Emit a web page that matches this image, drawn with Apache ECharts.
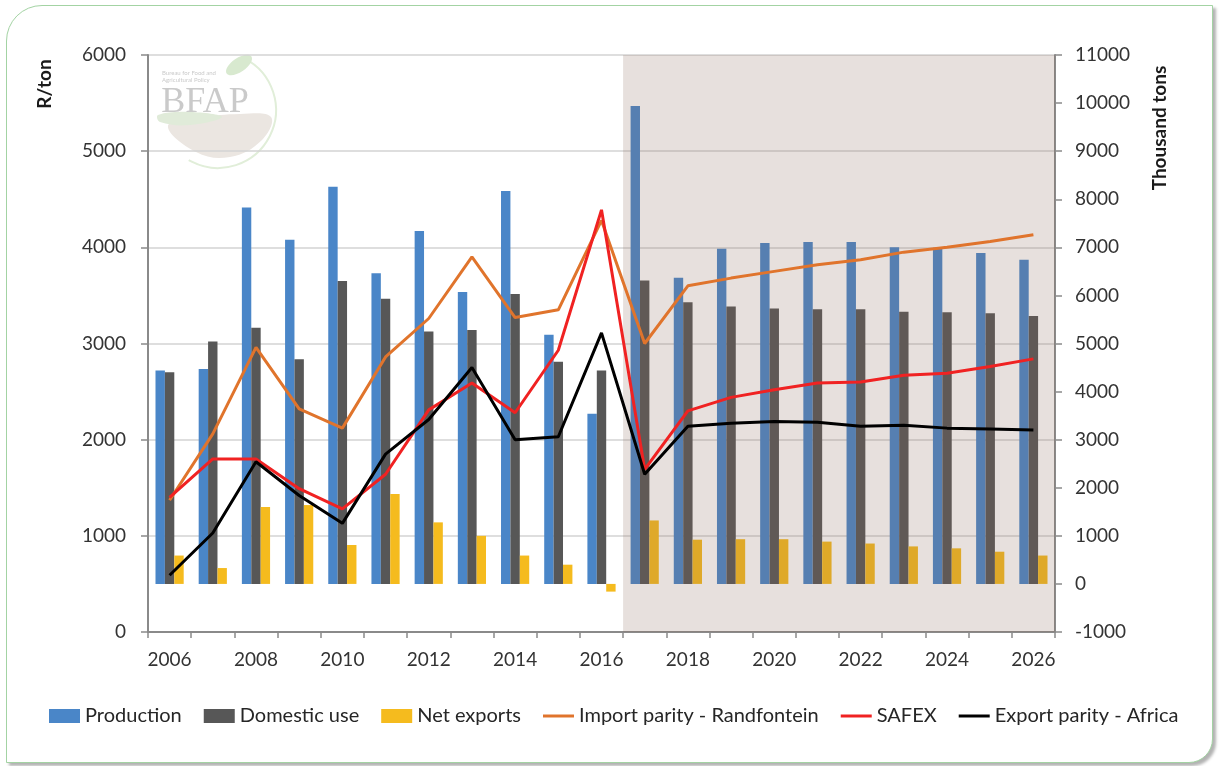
<!DOCTYPE html>
<html>
<head>
<meta charset="utf-8">
<script src="https://cdn.jsdelivr.net/npm/echarts@6/dist/echarts.min.js"></script>
<style>
html,body{margin:0;padding:0;background:#fff;overflow:hidden;}
#frame{position:absolute;left:6px;top:5px;width:1207px;height:758px;border:1.5px solid #a3d3a3;border-radius:36px 0 24px 0;box-shadow:3px 3px 3px rgba(0,0,0,0.3);box-sizing:border-box;background:#fff;}
#chart{position:absolute;left:0;top:0;width:1219px;height:766px;}
</style>
</head>
<body>
<div id="frame"></div>
<div id="chart"></div>
<script>
// ---- Data ----
const categories = ['2006','2007','2008','2009','2010','2011','2012','2013','2014','2015','2016',
  '2017','2018','2019','2020','2021','2022','2023','2024','2025','2026'];
// Thousand tons (right axis)
const production   = [4440, 4470, 7830, 7160, 8260, 6460, 7340, 6070, 8170, 5180, 3540,
  9940, 6370, 6970, 7090, 7110, 7110, 7000, 6990, 6880, 6740];
const domesticUse  = [4400, 5040, 5330, 4670, 6300, 5930, 5250, 5280, 6030, 4620, 4440,
  6310, 5860, 5770, 5730, 5710, 5710, 5660, 5650, 5630, 5570];
const netExports   = [590, 330, 1600, 1640, 810, 1870, 1280, 1000, 590, 400, -160,
  1320, 920, 930, 930, 880, 840, 780, 740, 670, 590];
// R/ton (left axis)
const importParity = [1370, 2060, 2960, 2320, 2120, 2860, 3260, 3900, 3270, 3350, 4280,
  3000, 3600, 3680, 3750, 3820, 3870, 3950, 4000, 4060, 4130];
const safex        = [1400, 1800, 1800, 1490, 1280, 1640, 2310, 2590, 2280, 2930, 4390,
  1690, 2300, 2440, 2520, 2590, 2600, 2670, 2690, 2760, 2840];
const exportParity = [590, 1030, 1770, 1420, 1130, 1850, 2210, 2750, 2000, 2030, 3110,
  1640, 2140, 2170, 2190, 2180, 2140, 2150, 2120, 2110, 2100];
const leftTicks  = {min: 0, max: 6000, interval: 1000};
const rightTicks = {min: -1000, max: 11000, interval: 1000};
const firstForecastYear = '2017';

// ---- Chart ----
const FONT = 'Lato';
const chart = echarts.init(document.getElementById('chart'));
const forecastStart = categories.indexOf(firstForecastYear);
const axisColor = '#8a8a8a';
const LINE_ICON = 'path://M0,0H31V3H0Z';

const lineSeries = (name, data, color) => ({
  name, type: 'line', yAxisIndex: 0, xAxisIndex: 0, data, symbol: 'none', z: 5,
  lineStyle: {color, width: 3}, itemStyle: {color}
});
const barSeries = (name, data, color) => ({
  name, type: 'bar', yAxisIndex: 1, xAxisIndex: 0, data, barWidth: 9.4, barGap: '0%',
  itemStyle: {color}
});
const plain = v => String(v);

const option = {
  backgroundColor: 'transparent',
  animation: false,
  textStyle: {fontFamily: FONT},
  grid: {left: 148, right: 164, top: 55, bottom: 134, containLabel: false},
  legend: {
    left: 49, top: 706, padding: 0, itemWidth: 31, itemHeight: 14, itemGap: 22,
    symbolKeepAspect: true,
    textStyle: {fontSize: 20, color: '#262626', fontFamily: FONT},
    data: [
      {name: 'Production', icon: 'rect'},
      {name: 'Domestic use', icon: 'rect'},
      {name: 'Net exports', icon: 'rect'},
      {name: 'Import parity - Randfontein', icon: LINE_ICON},
      {name: 'SAFEX', icon: LINE_ICON},
      {name: 'Export parity - Africa', icon: LINE_ICON}
    ]
  },
  xAxis: [{
    type: 'category', data: categories, boundaryGap: true,
    axisLine: {lineStyle: {color: axisColor, width: 2}},
    axisTick: {show: true, interval: 0, length: 6, lineStyle: {color: axisColor, width: 1.5}},
    axisLabel: {interval: 1, fontSize: 19, color: '#333', margin: 18, fontFamily: FONT},
    splitLine: {show: false}
  }, {
    type: 'value', min: 0, max: categories.length, show: false
  }],
  yAxis: [{
    type: 'value', position: 'left', ...leftTicks,
    axisLine: {show: true, lineStyle: {color: axisColor, width: 2}},
    axisTick: {show: true, length: 7, lineStyle: {color: axisColor, width: 1.5}},
    axisLabel: {fontSize: 19, color: '#333', margin: 22, fontFamily: FONT, formatter: plain},
    splitLine: {show: true, lineStyle: {color: '#d3d3d3', width: 1.5}}
  }, {
    type: 'value', position: 'right', ...rightTicks,
    axisLine: {show: true, lineStyle: {color: axisColor, width: 2}},
    axisTick: {show: true, length: 7, lineStyle: {color: axisColor, width: 1.5}},
    axisLabel: {fontSize: 19, color: '#333', margin: 20, fontFamily: FONT, formatter: plain},
    splitLine: {show: false}
  }],
  graphic: [
    {type: 'text', x: 45, y: 84, rotation: Math.PI / 2,
     style: {text: 'R/ton', font: 'bold 19px Lato', fill: '#1a1a1a', textAlign: 'center', textVerticalAlign: 'middle'}},
    {type: 'text', x: 1160, y: 128, rotation: Math.PI / 2,
     style: {text: 'Thousand tons', font: 'bold 19px Lato', fill: '#1a1a1a', textAlign: 'center', textVerticalAlign: 'middle'}},
    // watermark logo
    {type: 'group', silent: true, z: 1, children: [
      {type: 'arc', shape: {cx: 218, cy: 110, r: 58, startAngle: -1.1, endAngle: 2.1},
       style: {stroke: '#e1eed9', lineWidth: 2, fill: null}},
      {type: 'ellipse', x: 239, y: 65, rotation: 0.6, shape: {cx: 0, cy: 0, rx: 15, ry: 7},
       style: {fill: '#d8e9cf'}},
      {type: 'polygon', shape: {smooth: 0.4, points: [[168,126],[200,118],[240,114],[271,117],[262,140],[230,157],[196,152]]},
       style: {fill: '#ebe6e1'}},
      {type: 'polygon', shape: {smooth: 0.4, points: [[158,115],[190,112],[222,117],[190,125],[160,122]]},
       style: {fill: '#e0ebd9'}},
      {type: 'text', x: 205, y: 103,
       style: {text: 'BFAP', font: '36px "Liberation Serif"', fill: '#cacaca', textAlign: 'center', textVerticalAlign: 'middle'}},
      {type: 'text', x: 162, y: 73,
       style: {text: 'Bureau for Food and', font: '6px Lato', fill: '#cacaca', textVerticalAlign: 'middle'}},
      {type: 'text', x: 162, y: 80,
       style: {text: 'Agricultural Policy', font: '6px Lato', fill: '#cacaca', textVerticalAlign: 'middle'}}
    ]}
  ],
  series: [
    barSeries('Production', production, '#4a86c8'),
    barSeries('Domestic use', domesticUse, '#575757'),
    barSeries('Net exports', netExports, '#f5bb1e'),
    lineSeries('Import parity - Randfontein', importParity, '#e0742c'),
    lineSeries('SAFEX', safex, '#f02222'),
    lineSeries('Export parity - Africa', exportParity, '#000000'),
    {
      name: 'forecast', type: 'line', xAxisIndex: 1, yAxisIndex: 0, data: [], silent: true,
      markArea: {
        silent: true, z: 3,
        itemStyle: {color: 'rgba(135,100,85,0.2)'},
        data: [[{xAxis: forecastStart}, {xAxis: categories.length}]]
      }
    }
  ]
};
chart.setOption(option);
</script>
</body>
</html>
